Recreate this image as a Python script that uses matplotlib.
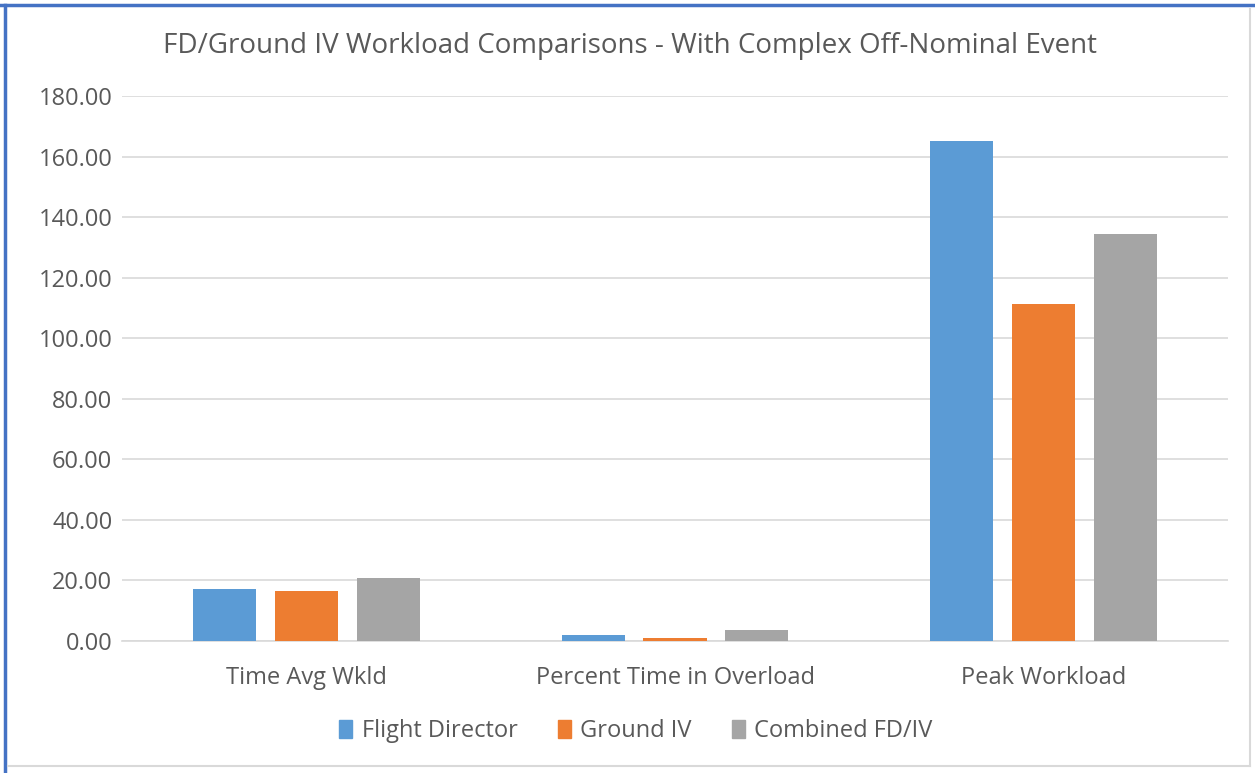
import numpy as np
import matplotlib
matplotlib.use("Agg")
import matplotlib.pyplot as plt
from matplotlib.lines import Line2D

categories = ["Time Avg Wkld", "Percent Time in Overload", "Peak Workload"]
series_names = ["Flight Director", "Ground IV", "Combined FD/IV"]
flight_director = [17.2, 2.0, 165.1]
ground_iv = [16.5, 1.0, 111.3]
combined = [20.8, 3.6, 134.4]
yticks = [0, 20, 40, 60, 80, 100, 120, 140, 160, 180]

colors = ["#5B9BD5", "#ED7D31", "#A5A5A5"]
text_color = "#595959"

plt.rcParams["font.family"] = ["Open Sans", "DejaVu Sans"]

fig = plt.figure(figsize=(12.55, 7.73), dpi=100)
ax = fig.add_axes([122 / 1255, 1 - 641 / 773, (1228 - 122) / 1255, (641 - 96) / 773])

x = np.arange(len(categories))
width = 0.171
step = 0.222
for i, (vals, name) in enumerate(zip([flight_director, ground_iv, combined], series_names)):
    ax.bar(x + (i - 1) * step, vals, width, color=colors[i], label=name, zorder=3)

ax.set_xlim(-0.5, 2.5)
ax.set_ylim(0, 180)
ax.set_yticks(yticks)
ax.set_yticklabels([f"{v:.2f}" for v in yticks], fontsize=17, color=text_color)
ax.set_xticks(x)
ax.set_xticklabels(categories, fontsize=17, color=text_color)
ax.tick_params(axis="both", length=0)
ax.tick_params(axis="y", pad=7)
ax.tick_params(axis="x", pad=18)
ax.grid(axis="y", color="#D9D9D9", linewidth=1.2, zorder=0)
for s in ["top", "right", "left"]:
    ax.spines[s].set_visible(False)
ax.spines["bottom"].set_color("#D9D9D9")
ax.spines["bottom"].set_linewidth(1.2)

fig.text(630 / 1255, 1 - 46 / 773, "FD/Ground IV Workload Comparisons - With Complex Off-Nominal Event",
         ha="center", va="center", fontsize=20, color=text_color)

handles = [plt.Rectangle((0, 0), 1, 1, color=c) for c in colors]
fig.legend(handles, series_names, loc="center", bbox_to_anchor=(636 / 1255, 1 - 731 / 773),
           ncol=3, frameon=False, fontsize=17, handlelength=0.55, handleheight=0.8,
           handletextpad=0.4, columnspacing=1.7, labelcolor=text_color)

# chart frame as in the screenshot
fig.add_artist(Line2D([5 / 1255, 5 / 1255], [0, 1 - 5 / 773], color="#4472C4", linewidth=2.5))
fig.add_artist(Line2D([0, 1], [1 - 5 / 773, 1 - 5 / 773], color="#4472C4", linewidth=2.5))
fig.add_artist(Line2D([1250 / 1255, 1250 / 1255], [1 - 766 / 773, 1 - 9 / 773], color="#D9D9D9", linewidth=1.5))
fig.add_artist(Line2D([8 / 1255, 1250 / 1255], [1 - 766 / 773, 1 - 766 / 773], color="#D9D9D9", linewidth=1.5))

fig.savefig("out.png", dpi=100)
